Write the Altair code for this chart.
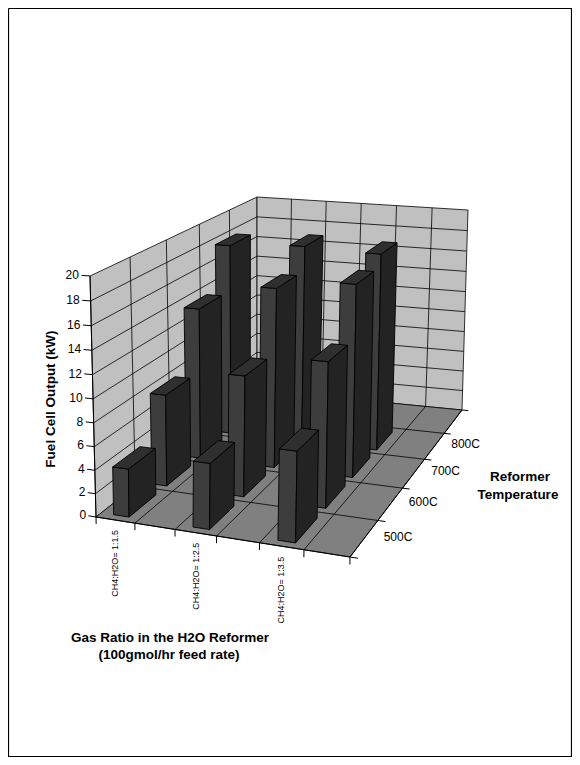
import altair as alt
import pandas as pd

# ---------------- data ----------------
categories = ["CH4:H2O= 1:1.5", "CH4:H2O= 1:2.5", "CH4:H2O= 1:3.5"]
temperatures = ["500C", "600C", "700C", "800C"]
output_500C = [4.1, 5.5, 7.4]
output_600C = [8.1, 10.5, 12.4]
output_700C = [13.8, 16.2, 17.1]
output_800C = [18.0, 18.4, 18.2]
series_values = [output_500C, output_600C, output_700C, output_800C]
y_ticks = list(range(0, 21, 2))

y_title = "Fuel Cell Output (kW)"
x_title = ["Gas Ratio in the H2O Reformer", "(100gmol/hr feed rate)"]
z_title = ["Reformer", "Temperature"]

# ---------------- 3D frame layout (camera) ----------------
W, H = 564, 749          # chart size
OFF = 8                  # page margin
NX, NZ, YMAX = 6, 5, 20  # floor divisions along categories / series, value range
# screen position of the plot-box corners: floor (Y=0) and ceiling (Y=YMAX)
FLOOR = [(96, 517), (350, 557), (462, 410), (257, 390)]
TOP = [(90, 276), (353, 295), (468, 210), (257, 197)]
PERSP = -0.0387          # depth change from floor to ceiling
BAR_X = (0.32, 0.72)     # bar footprint inside a division
BAR_Z = (0.13, 0.83)

FRONT, SIDE, TOPC = "#3d3d3d", "#232323", "#2f2f2f"
WALL, FLOORC = "#c0c0c0", "#808080"
FONT = "Liberation Sans"


def square_to_quad(p0, p1, p2, p3):
    (x0, y0), (x1, y1), (x2, y2), (x3, y3) = p0, p1, p2, p3
    dx1, dx2, dx3 = x1 - x2, x3 - x2, x0 - x1 + x2 - x3
    dy1, dy2, dy3 = y1 - y2, y3 - y2, y0 - y1 + y2 - y3
    det = dx1 * dy2 - dx2 * dy1
    g = (dx3 * dy2 - dx2 * dy3) / det
    h = (dx1 * dy3 - dx3 * dy1) / det
    a, b, c = x1 - x0 + g * x1, x3 - x0 + h * x3, x0
    d, e, f = y1 - y0 + g * y1, y3 - y0 + h * y3, y0

    def m(u, v):
        w = g * u + h * v + 1
        return (a * u + b * v + c) / w, (d * u + e * v + f) / w, w
    return m


floor_map = square_to_quad(*FLOOR)
top_map = square_to_quad(*TOP)


def P(X, Z, Y):
    u, v = X / NX, Z / NZ
    xb, yb, wb = floor_map(u, v)
    xt, yt, _ = top_map(u, v)
    t = Y / YMAX
    k = (wb + PERSP) / wb
    ts = k * t / ((1 - t) + k * t)
    return [round(xb + ts * (xt - xb) - OFF, 2), round(yb + ts * (yt - yb) - OFF, 2)]


def poly(pts, fill):
    ring = [P(*p) for p in pts]
    ring.append(ring[0])
    return {"type": "Feature", "geometry": {"type": "Polygon", "coordinates": [ring]},
            "properties": {"fill": fill}}


def seg(p, q):
    return {"type": "Feature", "geometry": {"type": "LineString", "coordinates": [P(*p), P(*q)]},
            "properties": {}}


# walls and floor
planes = [
    poly([(0, 0, 0), (0, NZ, 0), (0, NZ, YMAX), (0, 0, YMAX)], WALL),
    poly([(0, NZ, 0), (NX, NZ, 0), (NX, NZ, YMAX), (0, NZ, YMAX)], WALL),
    poly([(0, 0, 0), (NX, 0, 0), (NX, NZ, 0), (0, NZ, 0)], FLOORC),
]

grid = []
for yv in y_ticks[1:-1]:
    grid.append(seg((0, 0, yv), (0, NZ, yv)))
    grid.append(seg((0, NZ, yv), (NX, NZ, yv)))
for z in range(1, NZ):
    grid.append(seg((0, z, 0), (0, z, YMAX)))
    grid.append(seg((0, z, 0), (NX, z, 0)))
for x in range(1, NX):
    grid.append(seg((x, NZ, 0), (x, NZ, YMAX)))
    grid.append(seg((x, 0, 0), (x, NZ, 0)))

axes = [seg((0, 0, 0), (NX, 0, 0)), seg((NX, 0, 0), (NX, NZ, 0)), seg((0, 0, 0), (0, 0, YMAX))]
for x in range(0, NX + 1):
    axes.append(seg((x, 0, 0), (x, 0, -0.6)))
for z in range(0, NZ + 1):
    axes.append(seg((NX, z, 0), (NX + 0.17, z, 0)))
for yv in y_ticks:
    axes.append(seg((0, 0, yv), (-0.2, 0, yv)))

# chart frame (outer border of the chart area)
border = [{"type": "Feature", "properties": {}, "geometry": {
    "type": "LineString",
    "coordinates": [[0.5, 0.5], [W - 0.5, 0.5], [W - 0.5, H - 0.5], [0.5, H - 0.5], [0.5, 0.5]]}}]

# bars, drawn back to front
bars = []
for j in reversed(range(len(temperatures))):
    for i in range(len(categories)):
        val = series_values[j][i]
        x0, x1 = 2 * i + BAR_X[0], 2 * i + BAR_X[1]
        z0, z1 = j + BAR_Z[0], j + BAR_Z[1]
        bars.append(poly([(x0, z0, 0), (x1, z0, 0), (x1, z0, val), (x0, z0, val)], FRONT))
        bars.append(poly([(x1, z0, 0), (x1, z1, 0), (x1, z1, val), (x1, z0, val)], SIDE))
        bars.append(poly([(x0, z0, val), (x1, z0, val), (x1, z1, val), (x0, z1, val)], TOPC))

proj = alt.Projection(type="identity", scale=1, translate=[0, 0])


def shapes(features, **kw):
    return alt.Chart(alt.Data(values=features)).mark_geoshape(
        stroke="black", **kw).encode(
        fill=alt.Fill("properties.fill:N", scale=None)).project(**proj.to_dict())


def lines(features, width=0.8):
    return alt.Chart(alt.Data(values=features)).mark_geoshape(
        filled=False, stroke="black", strokeWidth=width).project(**proj.to_dict())


def texts(rows, **kw):
    df = pd.DataFrame(rows, columns=["lon", "lat", "label"])
    return alt.Chart(df).mark_text(font=FONT, color="black", **kw).encode(
        longitude="lon:Q", latitude="lat:Q", text="label:N").project(**proj.to_dict())


ylab = [P(-0.26, 0, v) + [str(v)] for v in y_ticks]
catlab = [P(2 * i + 0.5, 0, -0.85) + [c] for i, c in enumerate(categories)]
serlab = [P(NX + 0.42, j + 0.5, 0) + [t] for j, t in enumerate(temperatures)]

chart = alt.layer(
    lines(border, 1.2),
    shapes(planes, strokeWidth=0.8),
    lines(grid, 0.8),
    lines(axes, 1),
    shapes(bars, strokeWidth=0.9),
    texts(ylab, fontSize=12, align="right", baseline="middle"),
    texts(catlab, fontSize=9, align="right", baseline="middle", angle=270),
    texts(serlab, fontSize=12, align="left", baseline="middle", dy=-4),
    texts([[50.7 - OFF, 399 - OFF, y_title]], fontSize=13.5, fontWeight="bold",
          align="center", baseline="middle", angle=270),
    texts([[170 - OFF, 637.5 - OFF, x_title[0]], [169 - OFF, 655 - OFF, x_title[1]]],
          fontSize=13.5, fontWeight="bold", align="center", baseline="middle"),
    texts([[520 - OFF, 477 - OFF, z_title[0]], [518 - OFF, 495 - OFF, z_title[1]]],
          fontSize=13.5, fontWeight="bold", align="center", baseline="middle"),
).properties(
    width=W, height=H, autosize="none", padding=0, background="white"
).configure_view(strokeWidth=0)

chart.save("out.html", embed_options={"renderer": "svg", "actions": False})
